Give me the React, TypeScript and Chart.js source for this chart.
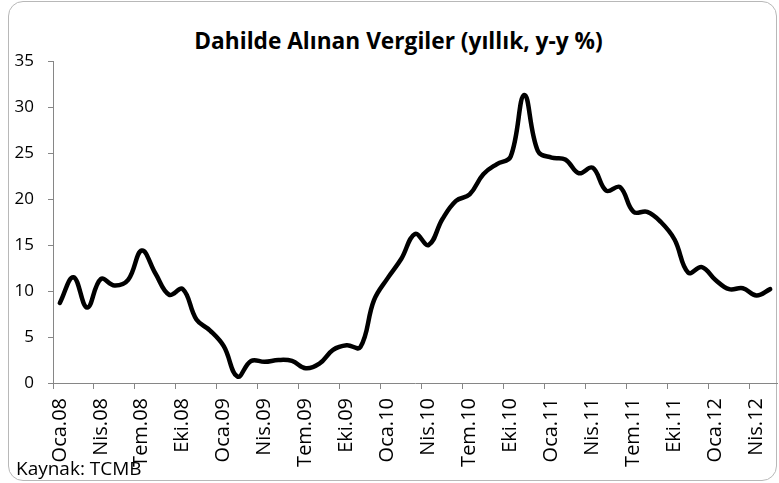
import React, { useEffect, useRef } from "react";
import { Chart, registerables } from "chart.js";

Chart.register(...registerables);

const TITLE = "Dahilde Alınan Vergiler (yıllık, y-y %)";
const SOURCE = "Kaynak: TCMB";

const categories: string[] = [
  "Oca.08", "Şub.08", "Mar.08", "Nis.08", "May.08", "Haz.08", "Tem.08", "Ağu.08", "Eyl.08", "Eki.08", "Kas.08", "Ara.08",
  "Oca.09", "Şub.09", "Mar.09", "Nis.09", "May.09", "Haz.09", "Tem.09", "Ağu.09", "Eyl.09", "Eki.09", "Kas.09", "Ara.09",
  "Oca.10", "Şub.10", "Mar.10", "Nis.10", "May.10", "Haz.10", "Tem.10", "Ağu.10", "Eyl.10", "Eki.10", "Kas.10", "Ara.10",
  "Oca.11", "Şub.11", "Mar.11", "Nis.11", "May.11", "Haz.11", "Tem.11", "Ağu.11", "Eyl.11", "Eki.11", "Kas.11", "Ara.11",
  "Oca.12", "Şub.12", "Mar.12", "Nis.12", "May.12",
];

const values2008 = [8.7, 11.5, 8.2, 11.3, 10.6, 11.2, 14.4, 11.9, 9.6, 10.2, 6.9, 5.7];
const values2009 = [4.0, 0.7, 2.4, 2.3, 2.5, 2.4, 1.6, 2.1, 3.6, 4.1, 3.9, 9.0];
const values2010 = [11.4, 13.5, 16.2, 15.0, 17.8, 19.8, 20.5, 22.7, 23.8, 24.6, 31.3, 25.2];
const values2011 = [24.5, 24.3, 22.8, 23.4, 20.9, 21.3, 18.6, 18.6, 17.5, 15.6, 12.0, 12.6];
const values2012 = [11.2, 10.2, 10.3, 9.5, 10.2];

const series = [...values2008, ...values2009, ...values2010, ...values2011, ...values2012];

const yMin = 0;
const yMax = 35;
const yStep = 5;
const labelEvery = 3;

const FONT = "'Open Sans', Lato, 'DejaVu Sans', sans-serif";
const AXIS_GREY = "#868686";

export default function App() {
  const canvasRef = useRef<HTMLCanvasElement>(null);

  useEffect(() => {
    if (!canvasRef.current) return;
    const chart = new Chart(canvasRef.current, {
      type: "line",
      data: {
        labels: categories,
        datasets: [
          {
            data: series,
            borderColor: "#000000",
            borderWidth: 4.5,
            pointRadius: 0,
            pointHoverRadius: 0,
            tension: 0.4,
            fill: false,
            borderCapStyle: "round",
            borderJoinStyle: "round",
          },
        ],
      },
      options: {
        animation: false,
        responsive: false,
        events: [],
        layout: { padding: { left: 0, right: 2, top: 61, bottom: 0 } },
        plugins: {
          legend: { display: false },
          tooltip: { enabled: false },
          title: { display: false },
        },
        scales: {
          x: {
            type: "category",
            offset: true,
            grid: {
              offset: true,
              drawOnChartArea: false,
              drawTicks: true,
              tickLength: 6,
              lineWidth: 1,
              color: (ctx: any) =>
                typeof ctx.index === "number" && ctx.index % labelEvery === 0 ? AXIS_GREY : "rgba(0,0,0,0)",
            },
            border: { display: true, color: AXIS_GREY, width: 1 },
            ticks: {
              autoSkip: false,
              maxRotation: 90,
              minRotation: 90,
              padding: 9,
              color: "#000000",
              font: { family: FONT, size: 20 },
              callback: (_v: any, i: number) => (i % labelEvery === 0 ? categories[i] : ""),
            },
            afterFit: (s: any) => {
              s.height = 100;
              s.paddingLeft = 0;
              s.paddingRight = 0;
            },
          },
          y: {
            min: yMin,
            max: yMax,
            grid: {
              drawOnChartArea: false,
              drawTicks: true,
              tickLength: 5,
              color: AXIS_GREY,
              lineWidth: 1,
            },
            border: { display: true, color: AXIS_GREY, width: 1 },
            ticks: {
              stepSize: yStep,
              padding: 14,
              color: "#000000",
              font: { family: FONT, size: 17 },
            },
            afterFit: (s: any) => {
              s.width = 53;
              s.paddingTop = 0;
              s.paddingBottom = 0;
            },
          },
        },
      },
    } as any);
    return () => chart.destroy();
  }, []);

  return (
    <div style={{ position: "absolute", left: 0, top: 0, width: 779, height: 483, background: "#ffffff" }}>
      <div
        style={{
          position: "absolute",
          left: 8,
          top: 1,
          width: 769,
          height: 480,
          border: "1px solid #b8b8b8",
          borderRadius: 15,
          boxSizing: "border-box",
        }}
      />
      <div
        style={{
          position: "absolute",
          left: 20,
          width: 757,
          top: 27,
          textAlign: "center",
          fontFamily: FONT,
          fontWeight: "bold",
          fontSize: 22.7,
          lineHeight: "28px",
          color: "#000000",
          whiteSpace: "nowrap",
        }}
      >
        {TITLE}
      </div>
      <canvas ref={canvasRef} width={779} height={483} style={{ position: "absolute", left: 0, top: 0, width: 779, height: 483 }} />
      <div
        style={{
          position: "absolute",
          left: 16,
          top: 456,
          fontFamily: FONT,
          fontSize: 19,
          lineHeight: "24px",
          color: "#000000",
          whiteSpace: "nowrap",
        }}
      >
        {SOURCE}
      </div>
    </div>
  );
}
